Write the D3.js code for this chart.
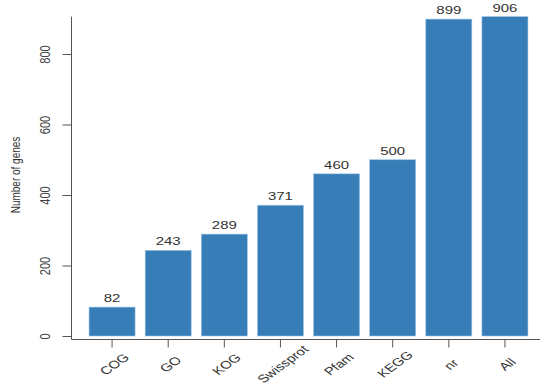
<!DOCTYPE html>
<html><head><meta charset="utf-8">
<script src="https://cdn.jsdelivr.net/npm/d3@7"></script>
<style>body{margin:0;background:#fff}svg{display:block}text{font-family:"Liberation Sans",Arial,sans-serif}</style>
</head><body>
<script>
const categories = ["COG","GO","KOG","Swissprot","Pfam","KEGG","nr","All"];
const values = [82,243,289,371,460,500,899,906];
const yTicks = [0,200,400,600,800];
const yTitle = "Number of genes";

const W=550,H=387, SX=1.36;
const svg=d3.select("body").append("svg").attr("width",W).attr("height",H);
const x=d3.scaleBand().domain(categories).range([84,533]).paddingInner(0.18).paddingOuter(0.09);
const y=d3.scaleLinear().domain([0,800]).range([336,54]);

// bars
svg.selectAll("rect.bar").data(values).join("rect").attr("class","bar")
 .attr("x",(d,i)=>x(categories[i])).attr("width",x.bandwidth())
 .attr("y",d=>y(d)).attr("height",d=>y(0)-y(d))
 .attr("fill","#377eb8").attr("stroke","#9cc3e4").attr("stroke-width",0.6);

// value labels
svg.selectAll("text.val").data(values).join("text").attr("class","val")
 .attr("transform",(d,i)=>`translate(${x(categories[i])+x.bandwidth()/2},${y(d)-5}) scale(${SX},1)`)
 .attr("text-anchor","middle").attr("font-size",11).attr("fill","#333").text(d=>d);

// y axis
const yAxis=svg.append("g").attr("transform","translate(71.5,0)")
 .call(d3.axisLeft(y).tickValues(yTicks).tickSize(9).tickPadding(4));
yAxis.select(".domain").remove();
yAxis.append("line").attr("x1",0).attr("x2",0).attr("y1",y(d3.max(values))).attr("y2",339.5).attr("stroke","#555");
yAxis.selectAll(".tick line").attr("stroke","#555");
yAxis.selectAll(".tick text").attr("transform",`translate(-21.5,0) scale(${SX},1) rotate(-90)`).attr("text-anchor","middle")
 .attr("x",0).attr("dy",0).attr("y",0).attr("font-size",11).attr("fill","#444")
 .attr("font-family","Liberation Sans, Arial, sans-serif");

// x axis
const xAxis=svg.append("g").attr("transform","translate(0,339.5)")
 .call(d3.axisBottom(x).tickSize(8).tickSizeOuter(0));
xAxis.select(".domain").remove();
xAxis.append("line").attr("x1",71.5).attr("x2",540).attr("y1",0).attr("y2",0).attr("stroke","#555");
xAxis.selectAll(".tick line").attr("stroke","#555");
xAxis.selectAll(".tick text").attr("text-anchor","middle").attr("dy",0).attr("y",0)
 .attr("transform",`translate(6,27.5) scale(${SX},1) rotate(-45)`).attr("font-size",11).attr("fill","#333")
 .attr("font-family","Liberation Sans, Arial, sans-serif");

// y title
svg.append("text").attr("transform",`translate(20,175) scale(${SX},1) rotate(-90)`).attr("text-anchor","middle")
 .attr("font-size",10).attr("fill","#333").text(yTitle);
</script>
</body></html>
